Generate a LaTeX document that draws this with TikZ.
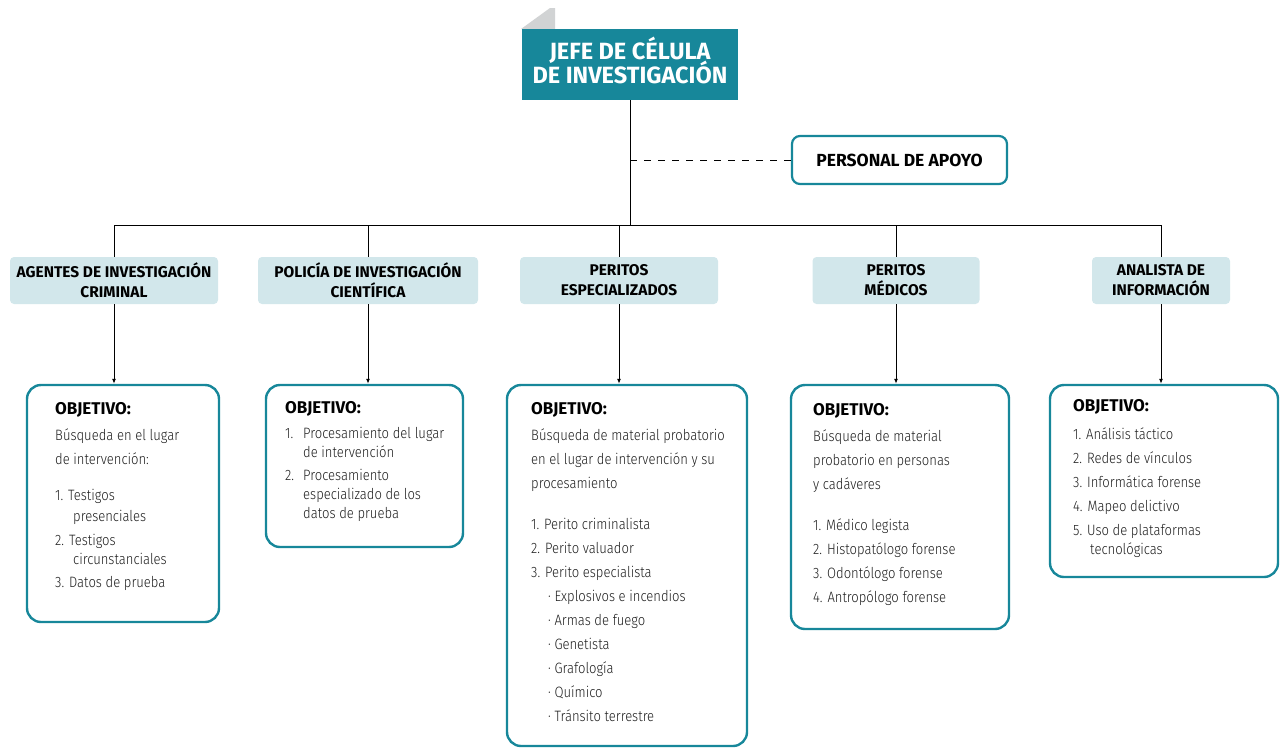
\documentclass[tikz,border=0pt]{standalone}
\usepackage{fontspec}
\usetikzlibrary{arrows.meta}
\setmainfont{Fira Sans}
\IfFontExistsTF{Fira Sans Light}
  {\newfontfamily\lightf[FakeStretch=0.87]{Fira Sans Light}}
  {\newfontfamily\lightf[FakeStretch=0.87]{Fira Sans}}
\newfontfamily\boldf{Fira Sans}
\definecolor{tealc}{HTML}{17879A}
\definecolor{lightc}{HTML}{D2E7EB}
\definecolor{grayf}{HTML}{D1D3D4}
\definecolor{txtc}{HTML}{1E1E1E}
\tikzset{
  cat/.style={fill=lightc, rounded corners=4pt, inner sep=0pt, align=center,
    minimum height=47pt, font=\boldf\bfseries\fontsize{15.5}{20}\selectfont, text=black},
  obj/.style={draw=tealc, line width=2.4pt, rounded corners=14pt, inner sep=0pt},
  objt/.style={anchor=west, inner sep=0pt, font=\boldf\bfseries\fontsize{17}{18}\selectfont, text=black},
  body/.style={anchor=north west, inner sep=0pt, align=left, text=txtc,
    font=\lightf\fontsize{15}{24}\selectfont},
  conn/.style={draw=black, line width=1pt},
  arr/.style={conn, -{Latex[length=5pt,width=4pt]}}
}
\begin{document}
\begin{tikzpicture}[x=1pt,y=-1pt]
\useasboundingbox (0,0) rectangle (1280,748);
% top
\fill[grayf] (521,29) -- (550,8) -- (555,8) -- (555,29) -- cycle;
\node[fill=tealc, minimum width=216pt, minimum height=71pt, inner sep=0pt] (jefe) at (630,64.5) {};
\node[inner sep=0pt, align=center, text=white, font=\boldf\bfseries\fontsize{23.5}{22}\selectfont]
  (jefet) at (630,60.5) {JEFE DE CÉLULA\\[-3pt]DE INVESTIGACIÓN};
\node[draw=tealc, line width=2.2pt, rounded corners=8pt, minimum width=215pt, minimum height=48pt,
  inner sep=0pt, font=\boldf\bfseries\fontsize{17.5}{18}\selectfont] (apoyo) at (899.5,160) {PERSONAL DE APOYO};
\coordinate (bus) at (630,225);
\draw[conn] (jefe.south) -- (bus);
\draw[conn, dash pattern=on 7pt off 7pt] (jefe.south |- apoyo.west) -- (apoyo.west);
% categories
\node[cat, minimum width=208pt] (c1) at (114,280.5) {AGENTES DE INVESTIGACIÓN\\CRIMINAL};
\node[cat, minimum width=220pt] (c2) at (368,280.5) {POLICÍA DE INVESTIGACIÓN\\CIENTÍFICA};
\node[cat, minimum width=198pt] (c3) at (619,280.5) {PERITOS\\ESPECIALIZADOS};
\node[cat, minimum width=167pt] (c4) at (896,280.5) {PERITOS\\MÉDICOS};
\node[cat, minimum width=138pt] (c5) at (1161,280.5) {ANALISTA DE\\INFORMACIÓN};
\draw[conn] (c1.north |- bus) -- (c5.north |- bus);
\foreach \i in {1,...,5} {\draw[conn] (c\i.north |- bus) -- (c\i.north);}
% objective boxes
\node[obj, minimum width=192pt, minimum height=237pt] (o1) at (123,503.5) {};
\node[obj, minimum width=197pt, minimum height=162pt] (o2) at (364.5,466) {};
\node[obj, minimum width=240pt, minimum height=361pt] (o3) at (627,565.5) {};
\node[obj, minimum width=218pt, minimum height=244pt] (o4) at (900,507) {};
\node[obj, minimum width=228pt, minimum height=192pt] (o5) at (1164,481) {};
\foreach \i in {1,...,5} {\draw[arr] (c\i.south) -- (c\i.south |- o\i.north);}
% texts
\node[objt] (h1) at (55,410) {OBJETIVO:};
\node[body] (b1) at (55,429) {Búsqueda en el lugar\\de intervención:\\[12pt]
1. Testigos\\[-3pt]\hspace*{18pt}presenciales\\2. Testigos\\[-5pt]\hspace*{18pt}circunstanciales\\[-1pt]3. Datos de prueba};
\node[objt] (h2) at (285,409) {OBJETIVO:};
\node[body] (b2) at (285,427) {\makebox[18pt][l]{1.}Procesamiento del lugar\\[-5pt]\hspace*{18pt}de intervención\\[-1pt]
\makebox[18pt][l]{2.}Procesamiento\\[-5pt]\hspace*{18pt}especializado de los\\[-5pt]\hspace*{18pt}datos de prueba};
\node[objt] (h3) at (531,410) {OBJETIVO:};
\node[body] (b3) at (531,429) {Búsqueda de material probatorio\\en el lugar de intervención y su\\procesamiento\\[17pt]
1. Perito criminalista\\2. Perito valuador\\3. Perito especialista\\
\hspace*{17pt}· Explosivos e incendios\\\hspace*{17pt}· Armas de fuego\\\hspace*{17pt}· Genetista\\
\hspace*{17pt}· Grafología\\\hspace*{17pt}· Químico\\\hspace*{17pt}· Tránsito terrestre};
\node[objt] (h4) at (813,411) {OBJETIVO:};
\node[body] (b4) at (813,430) {Búsqueda de material\\probatorio en personas\\y cadáveres\\[17pt]
1. Médico legista\\2. Histopatólogo forense\\3. Odontólogo forense\\4. Antropólogo forense};
\node[objt] (h5) at (1073,407) {OBJETIVO:};
\node[body] (b5) at (1073,428) {1. Análisis táctico\\2. Redes de vínculos\\3. Informática forense\\4. Mapeo delictivo\\
5. Uso de plataformas\\[-5pt]\hspace*{17pt}tecnológicas};
\end{tikzpicture}
\end{document}
